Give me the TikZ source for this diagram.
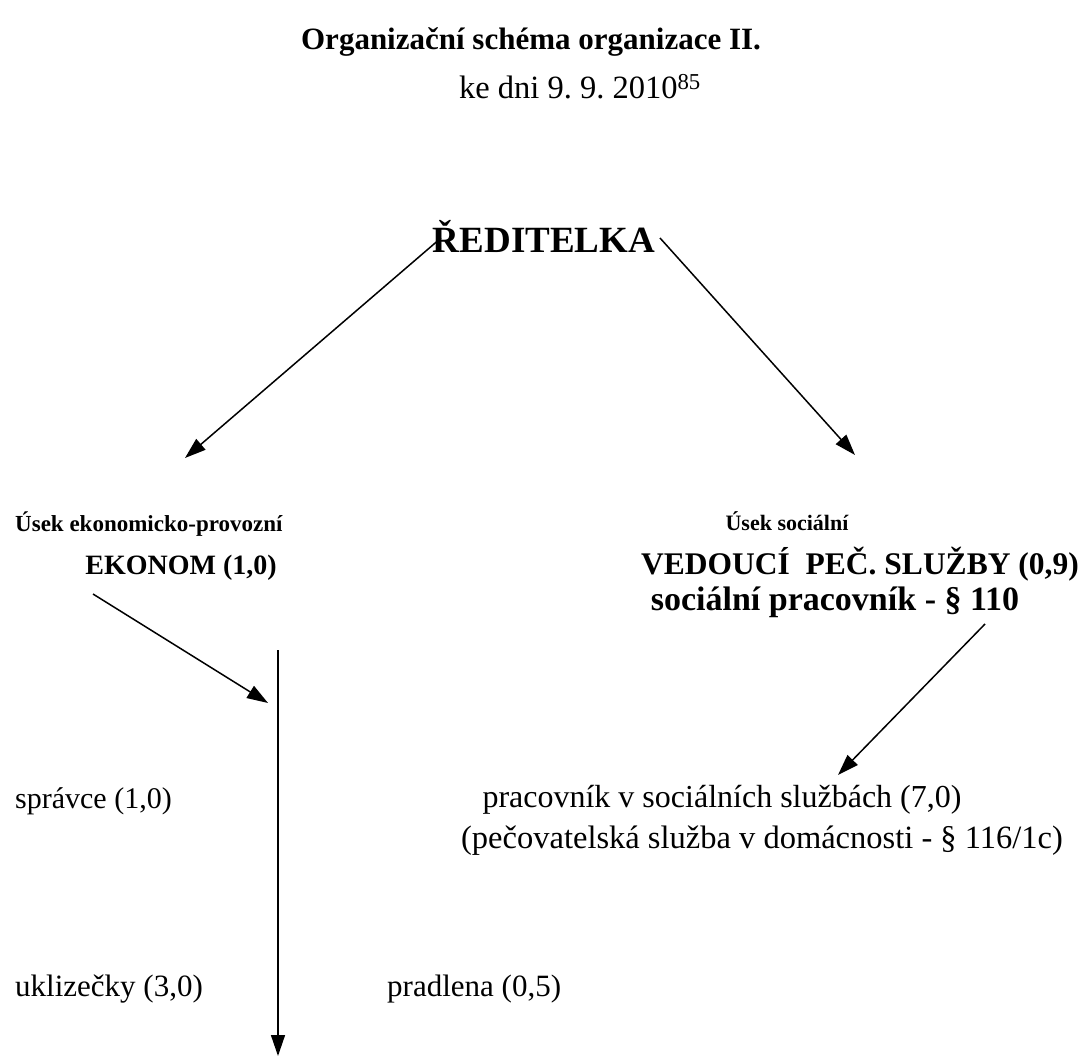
\documentclass[tikz,border=0pt]{standalone}
\usepackage{fontspec}
\setmainfont{Liberation Serif}
\usetikzlibrary{arrows.meta}
\newcommand{\fsz}[1]{\fontsize{#1}{#1}\selectfont}
\begin{document}
\begin{tikzpicture}[x=1pt,y=-1pt,
  lbl/.style={inner sep=0pt,anchor=base},
  lblw/.style={inner sep=0pt,anchor=base west},
  conn/.style={line width=1.5pt,-{Triangle[length=21pt,width=14pt]}}]
\useasboundingbox (0,0) rectangle (1082,1056);
% headings
\node[lbl] (title) at (531,50) {\fsz{31}\bfseries Organizační schéma organizace II.};
\node[lbl] (date) at (580,99) {\fsz{32.5}ke dni 9.\ 9.\ 2010\textsuperscript{85}};
\node[lbl] (dir) at (544,253) {\fsz{37}\bfseries ŘEDITELKA};
% economic section
\node[lblw] (ecosec) at (15,531) {\fsz{23}\bfseries Úsek ekonomicko-provozní};
\node[lbl] (econom) at (181,574) {\fsz{28}\bfseries EKONOM (1,0)};
% social section
\node[lbl] (socsec) at (787,530) {\fsz{22}\bfseries Úsek sociální};
\node[lbl] (head) at (860,574) {\fsz{31.5}\bfseries VEDOUCÍ\ \ PEČ.\ SLUŽBY (0,9)};
\node[lbl] (socw) at (835,610) {\fsz{34}\bfseries sociální pracovník - § 110};
% staff
\node[lblw] (admin) at (15,808) {\fsz{30}správce (1,0)};
\node[lbl] (care) at (722,807) {\fsz{32}pracovník v sociálních službách (7,0)};
\node[lbl] (carex) at (762,848) {\fsz{32.5}(pečovatelská služba v domácnosti - § 116/1c)};
\node[lblw] (clean) at (15,996) {\fsz{31}uklizečky (3,0)};
\node[lblw] (laundry) at (387,996) {\fsz{31}pradlena (0,5)};
% connector ends
\coordinate (dirL) at (441,238);
\coordinate (dirR) at (660,238);
\coordinate (ecoTop) at (185,458);
\coordinate (socTop) at (855,455);
\coordinate (ecoOut) at (93,594);
\coordinate (ecoIn) at (268,703);
\coordinate (barTop) at (278,650);
\coordinate (barEnd) at (278,1056);
\coordinate (socOut) at (985,624);
\coordinate (careIn) at (838,775);
% connectors
\draw[conn] (dirL) -- (ecoTop);
\draw[conn] (dirR) -- (socTop);
\draw[conn] (ecoOut) -- (ecoIn);
\draw[conn] (barTop) -- (barEnd);
\draw[conn] (socOut) -- (careIn);
\end{tikzpicture}
\end{document}
